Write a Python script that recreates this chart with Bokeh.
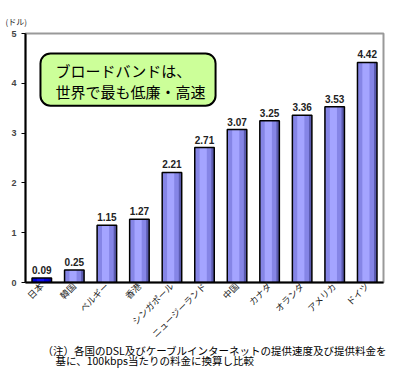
import math
from bokeh.plotting import figure
from bokeh.models import ColumnDataSource, Label, BoxAnnotation, FixedTicker, Title
from bokeh.transform import dodge
from bokeh.embed import file_html
from bokeh.resources import INLINE

countries = ["日本", "韓国", "ベルギー", "香港", "シンガポール", "ニュージーランド",
             "中国", "カナダ", "オランダ", "アメリカ", "ドイツ"]
prices = [0.09, 0.25, 1.15, 1.27, 2.21, 2.71, 3.07, 3.25, 3.36, 3.53, 4.42]
price_labels = ["0.09", "0.25", "1.15", "1.27", "2.21", "2.71", "3.07", "3.25", "3.36", "3.53", "4.42"]
y_ticks = [0, 1, 2, 3, 4, 5]
unit_label = "(ドル)"
callout_lines = ["ブロードバンドは、", "世界で最も低廉・高速"]
note_lines = ["（注）各国のDSL及びケーブルインターネットの提供速度及び提供料金を",
              "基に、100kbps当たりの料金に換算し比較"]

JP = "Noto Sans CJK JP"

dark = ["#0000b0"] + ["#5a5aae"] * 10
mid = ["#0000d8"] + ["#8585e6"] * 10
light = ["#1010f0"] + ["#a4a4ff"] * 10

src = ColumnDataSource(dict(c=countries, v=prices, t=price_labels,
                            dark=dark, mid=mid, light=light))

p = figure(x_range=countries, y_range=(0, 5), width=408, height=369,
           output_backend="svg", toolbar_location=None,
           min_border_left=25, min_border_right=25, min_border_top=33, min_border_bottom=87)
p.background_fill_color = "white"
p.border_fill_color = "white"
p.outline_line_color = "#999999"
p.outline_line_width = 2
p.xgrid.visible = False
p.ygrid.visible = False

p.vbar(x="c", top="v", width=0.6, source=src, fill_color="dark", line_color=None)
p.vbar(x=dodge("c", -0.04, range=p.x_range), top="v", width=0.5, source=src,
       fill_color="mid", line_color=None)
p.vbar(x=dodge("c", -0.04, range=p.x_range), top="v", width=0.22, source=src,
       fill_color="light", line_color=None)
p.vbar(x="c", top="v", width=0.6, source=src, fill_color=None, line_color="black", line_width=1.5)

p.text(x="c", y="v", text="t", source=src, text_align="center", text_baseline="bottom",
       y_offset=-4, text_font_size="10px", text_font_style="bold", text_color="#222222",
       text_font={"value": "Liberation Sans"})

p.yaxis.ticker = FixedTicker(ticks=y_ticks)
p.yaxis.axis_line_width = 2
p.yaxis.axis_line_color = "black"
p.yaxis.major_tick_in = 0
p.yaxis.major_tick_out = 4
p.yaxis.minor_tick_line_color = None
p.yaxis.major_label_standoff = 5
p.yaxis.major_label_text_font_size = "9px"
p.yaxis.major_label_text_font_style = "bold"
p.yaxis.major_label_text_font = "Liberation Sans"

p.xaxis.axis_line_width = 2
p.xaxis.axis_line_color = "black"
p.xaxis.major_tick_line_color = None
p.xaxis.major_tick_out = 0
p.xaxis.major_label_orientation = math.pi / 4
p.xaxis.major_label_text_font = JP
p.xaxis.major_label_text_font_size = "9px"
p.xaxis.major_label_standoff = 2
p.xaxis.major_label_text_color = "#222222"

box = BoxAnnotation(left=0.46, right=5.84, top=4.6, bottom=3.55,
                    fill_color="#ccff99", fill_alpha=1.0, line_color="black", line_alpha=1.0,
                    line_width=2, border_radius=10, level="overlay")
p.add_layout(box)
p.add_layout(Label(x=0.92, y=4.26, text=callout_lines[0], text_font=JP, text_font_size="15px",
                   text_baseline="middle", text_color="black", level="overlay"))
p.add_layout(Label(x=0.92, y=3.84, text=callout_lines[1], text_font=JP, text_font_size="15px",
                   text_baseline="middle", text_color="black", level="overlay"))

p.add_layout(Title(text=unit_label, align="left", offset=-20, standoff=14,
                   text_font=JP, text_font_size="8px", text_font_style="normal",
                   text_color="#222222"), "above")
p.add_layout(Title(text=note_lines[0], align="left", offset=17, standoff=-14,
                   text_font=JP, text_font_size="10.5px", text_font_style="normal",
                   text_color="black"), "below")
p.add_layout(Title(text=note_lines[1], align="left", offset=30, standoff=0.5,
                   text_font=JP, text_font_size="10.5px", text_font_style="normal",
                   text_color="black"), "below")

open("out.html", "w").write(file_html(p, INLINE))
